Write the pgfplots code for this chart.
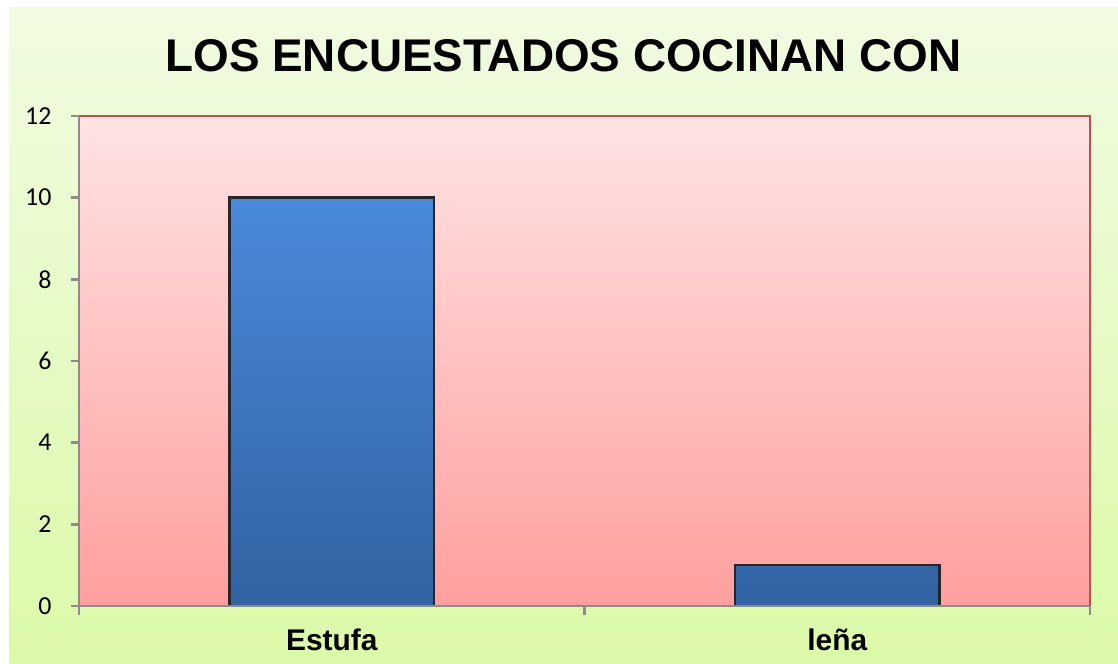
\documentclass[border=0pt]{standalone}
\usepackage{fontspec}
\setmainfont{Liberation Sans}
\newfontfamily\carlito{Carlito}
\usepackage{pgfplots}
\pgfplotsset{compat=1.18}
\definecolor{bgtop}{HTML}{F1FBE2}
\definecolor{bgbot}{HTML}{DBFAA8}
\definecolor{pltop}{HTML}{FFE3E3}
\definecolor{plbot}{HTML}{FF9F9F}
\definecolor{bartop}{HTML}{4A8ADB}
\definecolor{barbot}{HTML}{3262A2}
\definecolor{bord}{HTML}{C0504D}
\definecolor{axgray}{HTML}{8C8C8C}
\begin{document}
\begin{tikzpicture}[x=1bp,y=1bp]
\fill[white] (-79,-58) rectangle (1039,606);
\shade[top color=bgtop,bottom color=bgbot] (-70,-58) rectangle (1039,598);
\node[anchor=base,font=\fontsize{46}{50}\selectfont\bfseries] at (484.5,534) {LOS ENCUESTADOS COCINAN CON};
\begin{axis}[
  at={(0,0)}, anchor=south west,
  scale only axis, width=1011bp, height=490bp,
  xmin=-0.5, xmax=1.5, ymin=0, ymax=12,
  axis background/.style={top color=pltop, bottom color=plbot, draw=bord, line width=2bp},
  axis line style={draw=none},
  ytick={0,2,4,6,8,10,12},
  xtick={0,1}, xticklabels={Estufa, leña},
  minor xtick={-0.5,0.5,1.5},
  xtick pos=bottom, ytick pos=left,
  tick align=outside,
  major tick length=8bp, minor tick length=9bp,
  y tick style={axgray, line width=2.5bp},
  x tick style={draw=none},
  minor x tick style={draw=axgray, line width=2.5bp},
  /pgf/number format/assume math mode=true,
  yticklabel style={font=\carlito\fontsize{26}{27}\selectfont, xshift=-16bp},
  xticklabel style={font=\fontsize{30}{32}\selectfont\bfseries, yshift=-11bp},
  ybar, bar width=204bp,
  clip=false,
]
\addplot[draw=black!85, line width=2.5bp, top color=bartop, bottom color=barbot, bar shift=0pt]
  coordinates {(0,10) (1,1)};
\draw[axgray, line width=2.5bp] (rel axis cs:0,1) -- (rel axis cs:0,0) -- (rel axis cs:1,0);
\end{axis}
\end{tikzpicture}
\end{document}
